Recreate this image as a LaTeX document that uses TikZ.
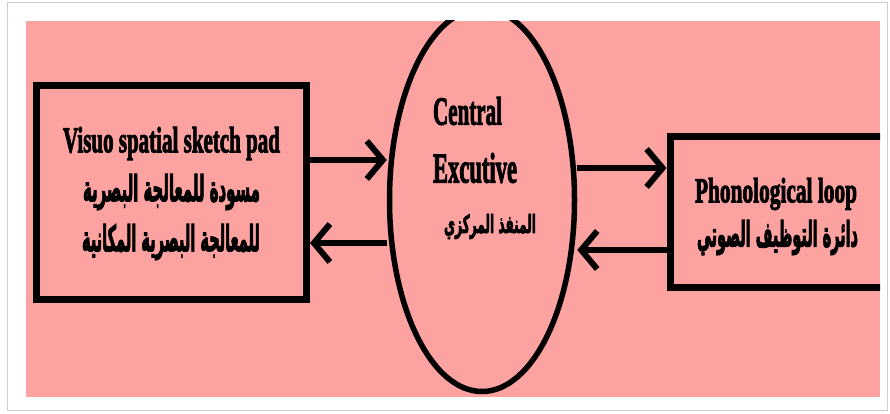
\documentclass[tikz,border=0pt]{standalone}
\usepackage{fontspec}
\setmainfont[BoldFeatures={FakeBold=3}]{Liberation Serif}
\newfontfamily\arabicfont[Script=Arabic,BoldFeatures={FakeBold=3.5}]{DejaVu Sans}
\usetikzlibrary{arrows.meta,shapes.geometric}
\TeXXeTstate=1
\definecolor{pinkbg}{RGB}{252,162,160}
\definecolor{framegray}{RGB}{205,205,205}
\begin{document}
\begin{tikzpicture}[x=1pt,y=-1pt,
  box/.style={draw, line width=7pt, rectangle, inner sep=0pt},
  oval/.style={draw, line width=5.5pt, ellipse, inner sep=0pt, minimum width=185pt, minimum height=383pt},
  arr/.style={line width=6pt, -{Straight Barb[length=16pt,width=38pt]}},
  txt/.style={inner sep=0pt, outer sep=0pt, anchor=south west}]
\useasboundingbox (0,0) rectangle (890,414);
\fill[white] (0,0) rectangle (890,414);
\draw[framegray, line width=1pt] (7,3) rectangle (887,410);
\fill[pinkbg] (26,21) rectangle (880,397);
\begin{scope}
\clip (26,21) rectangle (880,397);
\node[box, minimum width=270pt, minimum height=214pt] (L) at (171.5,192.5) {};
\node[box, minimum width=230pt, minimum height=150.5pt] (R) at (785,211.75) {};
\node[oval] (C) at (482,200) {};
\end{scope}
\node[txt] (t1) at (63,160) {\resizebox*{217pt}{33pt}{\bfseries Visuo spatial sketch pad}};
\node[txt] (t2) at (83,210) {\resizebox*{177pt}{36pt}{\arabicfont\bfseries\beginR مسودة للمعالجة البصرية\endR}};
\node[txt] (t3) at (82,260) {\resizebox*{178pt}{36pt}{\arabicfont\bfseries\beginR للمعالجة البصرية المكانية\endR}};
\node[txt] (t4) at (433,125) {\resizebox*{69pt}{28pt}{\bfseries Central}};
\node[txt] (t5) at (433,183) {\resizebox*{84pt}{30pt}{\bfseries Excutive}};
\node[txt] (t6) at (444,239) {\resizebox*{92pt}{25pt}{\arabicfont\bfseries\beginR المنفذ المركزي\endR}};
\node[txt] (t7) at (695,210) {\resizebox*{162pt}{32pt}{\bfseries Phonological loop}};
\node[txt] (t8) at (697,255) {\resizebox*{161pt}{35pt}{\arabicfont\bfseries\beginR دائرة التوظيف الصوتي\endR}};
\coordinate (y1) at (0,160);
\coordinate (y2) at (0,243);
\coordinate (y3) at (0,168);
\coordinate (y4) at (0,250);
\draw[arr] (L.east |- y1) -- (C.west |- y1);
\draw[arr] (C.west |- y2) -- (L.east |- y2);
\draw[arr] (C.east |- y3) -- (R.west |- y3);
\draw[arr] (R.west |- y4) -- (C.east |- y4);
\end{tikzpicture}
\end{document}
